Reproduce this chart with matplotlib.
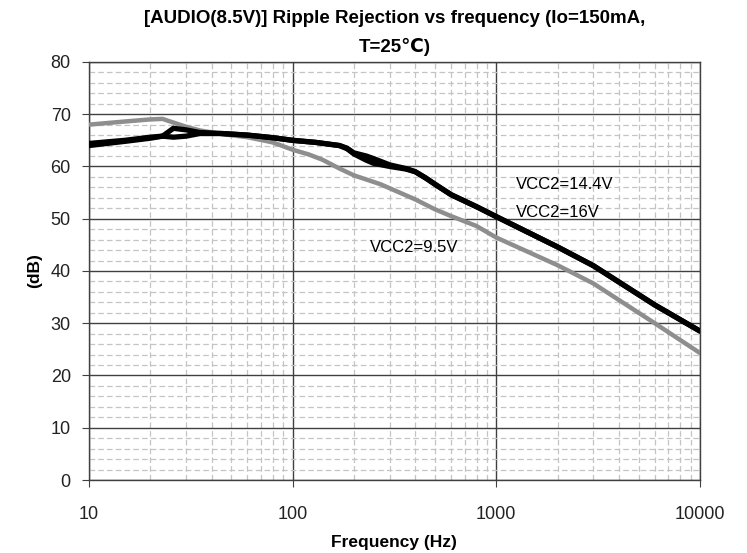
import numpy as np
import matplotlib
matplotlib.use('Agg')
import matplotlib.pyplot as plt
from matplotlib.ticker import FixedLocator, NullFormatter

plt.rcParams['font.family'] = ['Liberation Sans', 'DejaVu Sans']

# frequencies (Hz)
freq = [10, 15, 20, 23, 26, 30, 35, 45, 60, 80, 100, 130, 170, 185, 200,
        230, 250, 300, 360, 400, 450, 500, 600, 800, 1000, 2000, 3000, 6000, 10000]

# VCC2=14.4V
rr_144 = [64.0, 64.8, 65.4, 65.8, 67.3, 67.0, 66.5, 66.3, 66.0, 65.5, 65.0,
          64.6, 64.0, 63.5, 62.6, 62.0, 61.5, 60.3, 59.6, 59.0, 57.8, 56.6, 54.6,
          52.3, 50.4, 44.6, 41.0, 33.5, 28.5]
# VCC2=16V
rr_16 = [64.4, 65.0, 65.6, 65.8, 65.6, 65.8, 66.3, 66.3, 66.0, 65.5, 65.0,
         64.6, 64.0, 63.4, 62.4, 61.2, 60.6, 60.0, 59.5, 59.0, 57.8, 56.6, 54.6,
         52.3, 50.4, 44.6, 41.0, 33.5, 28.5]

# VCC2=9.5V
freq_95 = [10, 15, 20, 23, 26, 30, 35, 45, 60, 80, 100, 120, 140, 170, 200,
           270, 400, 500, 600, 800, 1000, 2000, 3000, 6000, 10000]
rr_95 = [68.0, 68.6, 69.0, 69.1, 68.4, 67.6, 66.9, 66.2, 65.6, 64.6, 63.2,
         62.3, 61.3, 59.6, 58.3, 56.6, 53.7, 51.8, 50.5, 48.6, 46.4, 41.1,
         37.6, 30.0, 24.3]

fig = plt.figure(figsize=(7.47, 5.53), dpi=100)
ax = fig.add_axes([0.119, 0.132, 0.818, 0.756])

ax.plot(freq_95, rr_95, color='#8e8e8e', lw=3.2, solid_capstyle='round',
        solid_joinstyle='round', zorder=3)
ax.plot(freq, rr_16, color='black', lw=3.8, solid_capstyle='round',
        solid_joinstyle='round', zorder=4)
ax.plot(freq, rr_144, color='black', lw=3.8, solid_capstyle='round',
        solid_joinstyle='round', zorder=4)

ax.set_xscale('log')
ax.set_xlim(10, 10000)
ax.set_ylim(0, 80)
ax.set_yticks(np.arange(0, 81, 10))
ax.set_xticks([10, 100, 1000, 10000])
ax.set_xticklabels(['10', '100', '1000', '10000'])
ax.xaxis.set_minor_locator(FixedLocator([m * d for d in (10, 100, 1000) for m in range(2, 10)]))
ax.xaxis.set_minor_formatter(NullFormatter())
ax.yaxis.set_minor_locator(FixedLocator([v for v in range(0, 81, 2) if v % 10]))

ax.grid(which='major', color='#404040', lw=1.0, ls='-')
ax.grid(which='minor', color='#c4c4c4', lw=0.9, ls=(0, (4.5, 2.5)))
ax.set_axisbelow(True)

ax.tick_params(which='major', direction='out', length=5, color='#404040',
               labelsize=13, labelcolor='#222222', pad=8)
ax.tick_params(axis='x', which='major', pad=14)
ax.tick_params(which='minor', length=0)
for s in ax.spines.values():
    s.set_color('#404040')
    s.set_linewidth(1.0)

ax.set_xlabel('Frequency (Hz)', fontsize=12.5, fontweight='bold', labelpad=8)
ax.set_ylabel('(dB)', fontsize=12.5, fontweight='bold', labelpad=6)
ax.set_title('[AUDIO(8.5V)] Ripple Rejection vs frequency (Io=150mA,\nT=25\u2103)',
             fontsize=13.5, fontweight='bold', linespacing=1.8, pad=7)

ax.text(1250, 56.5, 'VCC2=14.4V', fontsize=12, va='center', ha='left')
ax.text(1250, 51.1, 'VCC2=16V', fontsize=12, va='center', ha='left')
ax.text(240, 44.4, 'VCC2=9.5V', fontsize=12, va='center', ha='left')

fig.savefig('out.png', dpi=100)
